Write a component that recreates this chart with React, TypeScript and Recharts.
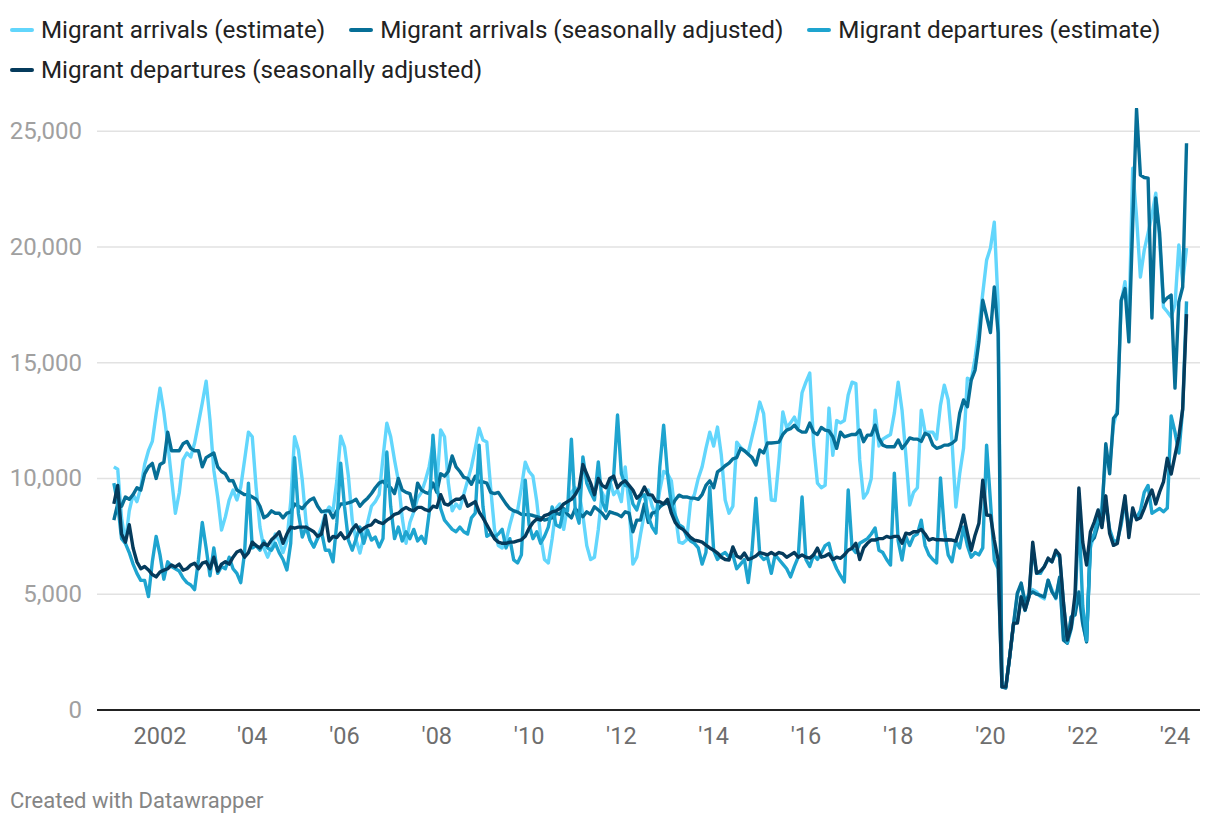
import React from "react";
import { LineChart, Line, XAxis, YAxis, CartesianGrid } from "recharts";

// monthly series, Jan 2001 .. Apr 2024
const START_YEAR = 2001;

const arrivalsEstimate = [
  10500, 10400, 8300, 7200, 8600, 9300, 9000, 9600, 10600, 11200, 11600, 12800, // 2001
  13900, 12870, 11530, 10000, 8500, 9370, 10800, 11100, 10930, 11530, 12390, 13260, // 2002
  14200, 12520, 10360, 9200, 7770, 8340, 9070, 9500, 9070, 9630, 10800, 12000, // 2003
  11800, 9600, 7900, 7000, 6600, 7000, 7600, 7300, 6800, 7300, 9000, 11800, // 2004
  11230, 9930, 8100, 7340, 7040, 7470, 7900, 8500, 8770, 8600, 9900, 11830, // 2005
  11360, 10100, 8200, 7340, 6780, 7470, 8100, 8800, 9000, 9300, 10900, 12390, // 2006
  11800, 10800, 9900, 8300, 7200, 8100, 8560, 9150, 9400, 9900, 10500, 11500, // 2007
  9700, 12100, 11800, 9800, 8600, 8900, 8700, 9300, 9900, 10500, 11300, 12170, // 2008
  11660, 11570, 9600, 7800, 7100, 7000, 7300, 8000, 8600, 8600, 9600, 10700, // 2009
  10300, 10100, 9000, 7500, 6500, 6350, 7400, 8700, 8900, 7800, 8800, 9400, // 2010
  9600, 9400, 8400, 7100, 6500, 6600, 7800, 9400, 9000, 9900, 9300, 9500, // 2011
  9000, 10500, 8800, 6300, 6600, 7600, 8500, 9500, 8800, 8400, 9500, 10300, // 2012
  10200, 9900, 8500, 7250, 7200, 7350, 9000, 9300, 10000, 10500, 11300, 12000, // 2013
  11400, 12220, 11000, 9070, 8500, 8800, 11570, 11350, 11200, 11100, 11800, 12500, // 2014
  13300, 12800, 11000, 9070, 9050, 10800, 12870, 12200, 12400, 12650, 12200, 13700, // 2015
  14160, 14550, 11500, 9800, 9600, 9700, 13040, 11000, 12500, 12400, 12500, 13600, // 2016
  14160, 14100, 10800, 9150, 9400, 10000, 12950, 11400, 11700, 11800, 11900, 12820, // 2017
  14160, 12950, 11000, 8850, 9400, 9600, 12950, 12000, 12000, 12000, 11700, 13170, // 2018
  14030, 13400, 11600, 8770, 10200, 11300, 14330, 14250, 15200, 16500, 18000, 19430, // 2019
  19950, 21070, 17500, 1050, 1000, 2300, 3700, 5000, 5400, 4700, 5000, 5200, // 2020
  5100, 4900, 4800, 5600, 5200, 4800, 5700, 3100, 2900, 4000, 4300, 5000, // 2021
  3700, 3000, 7000, 7600, 8200, 8800, 11000, 10500, 12300, 13000, 17600, 18500, // 2022
  16500, 23400, 21300, 18700, 19860, 20600, 21370, 22320, 20300, 17400, 17200, 16970, // 2023
  17500, 20080, 18480, 19950, // 2024
];

const arrivalsSeasonal = [
  8200, 8900, 8800, 9200, 9100, 9300, 9600, 9500, 10200, 10500, 10650, 10000,
  10600, 10700, 12000, 11200, 11200, 11200, 11500, 11600, 11300, 11200, 11200, 10500,
  10900, 11000, 11100, 10500, 10300, 10200, 9900, 9900, 9500, 9400, 9300, 9300,
  9200, 9100, 8800, 8300, 8400, 8600, 8500, 8500, 8300, 8500, 8550, 8900,
  8800, 8700, 8900, 9070, 9150, 8800, 8560, 8600, 8600, 8300, 8600, 8900,
  8900, 8950, 9000, 9100, 8800, 9000, 9150, 9350, 9600, 9800, 9880, 9700,
  9600, 9350, 10000, 9500, 9400, 9350, 8700, 9800, 9500, 9400, 9350, 9800,
  9400, 10200, 10100, 10300, 10970, 10500, 10300, 10050, 10000, 9750, 10100, 9850,
  9850, 9800, 9400, 9350, 9400, 9150, 8900, 8700, 8600, 8550, 8450, 8440,
  8440, 8400, 8350, 8300, 8200, 8250, 8300, 8500, 8450, 8700, 8450, 8300,
  8700, 8500, 8350, 8560, 8450, 8780, 8640, 8500, 8270, 8560, 8500, 8450,
  8350, 8560, 8500, 7700, 8200, 8200, 8900, 8100, 8500, 8550, 8770, 8900,
  8940, 8770, 9070, 9280, 9200, 9200, 9150, 9150, 9100, 9300, 9700, 9900,
  9600, 10280, 10400, 10550, 10660, 10850, 10900, 11300, 11200, 11050, 10900, 10580,
  11230, 11100, 11530, 11530, 11550, 11570, 11900, 12090, 12150, 12300, 12100, 12000,
  12000, 12390, 12000, 11900, 12200, 12090, 12050, 11800, 11300, 12000, 11800, 11850,
  11900, 11900, 12090, 11590, 11870, 11870, 12300, 11730, 11440, 11370, 11370, 11370,
  11660, 11300, 11500, 11750, 11700, 11700, 11600, 11950, 11870, 11450, 11300, 11350,
  11440, 11440, 11520, 11660, 12820, 13390, 13100, 14250, 14680, 15900, 17700, 17000,
  16300, 18270, 16280, 1000, 950, 2300, 3700, 5050, 5480, 4620, 4970, 5100,
  5000, 4950, 4880, 5610, 5100, 4840, 5740, 3020, 2890, 4020, 4100, 5100,
  3750, 2940, 7250, 7430, 8000, 8500, 11500, 10200, 12600, 12800, 17700, 18200,
  15900, 21000, 25950, 23100, 23000, 22970, 16930, 22110, 20600, 17620, 17800, 17920,
  13900, 17620, 18270, 24480,
];

const departuresEstimate = [
  9800, 8900, 7400, 7200, 6800, 6300, 5900, 5600, 5600, 4900, 6400, 7500,
  6700, 5650, 6400, 6200, 6100, 6000, 5700, 5500, 5400, 5200, 6500, 8100,
  7000, 5800, 7000, 5900, 6200, 6100, 6600, 6100, 5900, 5500, 6800, 9800,
  7000, 7100, 6900, 7300, 7000, 6900, 7200, 6800, 6500, 6050, 7200, 10900,
  8500, 7470, 7900, 7340, 7040, 7400, 7700, 6900, 6900, 6400, 8100, 10660,
  8770, 7340, 6900, 7400, 7900, 7200, 7770, 7340, 7470, 7040, 7400, 11140,
  8800, 7400, 7900, 7300, 7700, 7400, 7800, 7300, 7500, 7200, 8500, 11870,
  9700, 8700, 8200, 8000, 7800, 7700, 7900, 7700, 7600, 8300, 8500, 11440,
  8800, 7500, 7600, 7470, 7600, 7800, 7000, 7400, 6480, 6350, 6700, 9930,
  8000, 7400, 7700, 7200, 7500, 7900, 8770, 8000, 7900, 8640, 8600, 11700,
  8640, 8070, 10930, 9800, 9400, 9070, 10710, 9000, 8600, 9850, 10100, 12740,
  10200, 9700, 9650, 8900, 8640, 9200, 9300, 8350, 7900, 7640, 10500, 12300,
  10200, 8900, 8400, 8000, 7900, 7500, 7300, 7200, 7000, 6300, 6800, 9630,
  6900, 6500, 6700, 6800, 6600, 6700, 6100, 6300, 6500, 5500, 6900, 9150,
  6700, 6500, 6600, 5900, 6700, 6500, 6300, 6100, 5750, 6200, 6600, 9200,
  6500, 6200, 6700, 6500, 6780, 7100, 7200, 6500, 6100, 5800, 5530, 9500,
  7000, 6800, 7200, 7300, 7400, 7600, 7860, 6900, 6800, 6500, 6260, 10230,
  7300, 6480, 7500, 7100, 7500, 7600, 8200, 7100, 6700, 6500, 6350, 10020,
  7800, 6700, 6400, 7300, 7000, 7900, 7100, 6600, 6800, 6700, 7000, 11440,
  9000, 6480, 6100, 1000, 1000, 2300, 3700, 3800, 4900, 4300, 4900, 7000,
  5900, 5900, 6200, 6500, 6400, 6800, 6600, 4600, 2900, 3500, 4600, 8500,
  4500, 3000, 7300, 7600, 8300, 8000, 9000, 7800, 7300, 7300, 8000, 9000,
  7800, 8500, 8300, 8600, 9400, 9700, 8500, 8600, 8700, 8560, 8720, 12700,
  12000, 11100, 13000, 17650,
];

const departuresSeasonal = [
  8900, 9700, 7600, 7250, 8000, 7000, 6400, 6100, 6200, 6050, 5850, 5750,
  5960, 6040, 6100, 6260, 6180, 6300, 6040, 6100, 6260, 6340, 6100, 6340,
  6400, 6100, 6600, 6000, 6300, 6400, 6300, 6600, 6820, 6900, 6600, 6800,
  7250, 7100, 7000, 7200, 7100, 7350, 7500, 7700, 7200, 7600, 7900, 7850,
  7900, 7900, 7900, 7800, 7700, 7500, 7600, 8400, 7300, 7500, 7450, 7650,
  7400, 7500, 7800, 8000, 7700, 7850, 7950, 8000, 8200, 8100, 8050, 8200,
  8300, 8450, 8500, 8650, 8750, 8650, 8600, 8750, 8750, 8650, 8600, 8800,
  8750, 9300, 8900, 8850, 9000, 9100, 9100, 9250, 8800, 8900, 9000, 8550,
  8300, 8000, 7700, 7400, 7250, 7200, 7200, 7250, 7250, 7300, 7350, 7500,
  7850, 8100, 8250, 8200, 8400, 8450, 8560, 8600, 8700, 8900, 9000, 9100,
  9300, 9600, 10600, 10200, 9800, 9300, 10000, 9700, 9600, 10000, 10100, 9600,
  9800, 9900, 9700, 9500, 9150, 9300, 9630, 9300, 9280, 9000, 9000, 8900,
  9100, 8500, 8100, 7900, 7800, 7640, 7450, 7340, 7300, 7250, 7120, 7000,
  6900, 6780, 6600, 6500, 6480, 7040, 6650, 6560, 6780, 6500, 6560, 6650,
  6800, 6750, 6700, 6800, 6700, 6800, 6750, 6600, 6700, 6800, 6600, 6700,
  6600, 6560, 6700, 6990, 6600, 6650, 6750, 6500, 6600, 6550, 6700, 6900,
  6990, 7200, 6500, 7000, 7200, 7340, 7340, 7400, 7400, 7500, 7450, 7500,
  7500, 7200, 7640, 7600, 7700, 7700, 7800, 7600, 7340, 7400, 7350, 7350,
  7340, 7350, 7340, 7300, 7800, 8420, 7640, 6900, 7550, 8070, 9930, 8420,
  8400, 7340, 6480, 1000, 1000, 2290, 3750, 3750, 4880, 4320, 4880, 7250,
  5910, 6000, 6180, 6560, 6400, 6900, 6690, 4620, 3020, 3580, 5000, 9590,
  7250, 6260, 7690, 8120, 8640, 7880, 9250, 7620, 7110, 7190, 8220, 9250,
  7450, 8730, 8220, 8300, 8700, 9160, 9500, 8900, 9420, 9850, 10870, 10190,
  11000, 11800, 13000, 17100,
];

const xTicks = [2002, 2004, 2006, 2008, 2010, 2012, 2014, 2016, 2018, 2020, 2022, 2024];
const yTicks = [0, 5000, 10000, 15000, 20000, 25000];

const series = [
  { key: "arrEst", name: "Migrant arrivals (estimate)", color: "#62d6fc" },
  { key: "arrSa", name: "Migrant arrivals (seasonally adjusted)", color: "#066f97" },
  { key: "depEst", name: "Migrant departures (estimate)", color: "#1ea4cf" },
  { key: "depSa", name: "Migrant departures (seasonally adjusted)", color: "#053b5c" },
];

const data = arrivalsEstimate.map((v, i) => ({
  t: START_YEAR + i / 12,
  arrEst: v,
  arrSa: arrivalsSeasonal[i],
  depEst: departuresEstimate[i],
  depSa: departuresSeasonal[i],
}));

const font = "Roboto, 'Noto Sans', sans-serif";

const XTick = (props: any) => {
  const { x, payload } = props;
  const v = payload.value as number;
  const label = v === 2002 ? "2002" : "'" + String(v).slice(2);
  return (
    <text x={x} y={736} textAnchor="middle" dominantBaseline="central" fontSize={23.5} fill="#6e6e6e" fontFamily={font}>
      {label}
    </text>
  );
};

const YTick = (props: any) => {
  const { y, payload } = props;
  return (
    <text x={82} y={y} textAnchor="end" dominantBaseline="central" fontSize={24} fill="#a0a0a0" fontFamily={font}>
      {payload.value.toLocaleString("en-US")}
    </text>
  );
};

const LegendItem = ({ name, color }: { name: string; color: string }) => (
  <div style={{ display: "flex", alignItems: "center", marginRight: 24, height: 40 }}>
    <div style={{ width: 24, height: 4, borderRadius: 2, background: color, marginRight: 7 }} />
    <span style={{ fontSize: 24.2, color: "#222", whiteSpace: "nowrap" }}>{name}</span>
  </div>
);

export default function App() {
  return (
    <div style={{ position: "absolute", left: 0, top: 0, width: 1220, height: 826, background: "#fff", fontFamily: font, overflow: "hidden" }}>
      <div style={{ position: "absolute", left: 10, top: 10, width: 1200, display: "flex", flexWrap: "wrap" }}>
        {series.map((s) => (
          <LegendItem key={s.key} name={s.name} color={s.color} />
        ))}
      </div>
      <div style={{ position: "absolute", left: 0, top: 0 }}>
        <LineChart width={1220} height={826} data={data} margin={{ top: 108, right: 20, bottom: 0, left: 0 }}>
          <CartesianGrid
            vertical={false}
            horizontalValues={[5000, 10000, 15000, 20000, 25000]}
            stroke="#e2e2e2"
            strokeWidth={1.5}
          />
          <XAxis
            type="number"
            dataKey="t"
            domain={[2000.6345, 2024.542]}
            ticks={xTicks}
            height={116}
            axisLine={{ stroke: "#222", strokeWidth: 2 }}
            tickLine={false}
            tick={<XTick />}
            allowDataOverflow
          />
          <YAxis
            domain={[0, 26000]}
            ticks={yTicks}
            width={97}
            axisLine={false}
            tickLine={false}
            tick={<YTick />}
            allowDataOverflow
          />
          {series.map((s) => (
            <Line
              key={s.key}
              type="linear"
              dataKey={s.key}
              name={s.name}
              stroke={s.color}
              strokeWidth={3.4}
              strokeLinejoin="round"
              dot={false}
              isAnimationActive={false}
            />
          ))}
        </LineChart>
      </div>
      <div style={{ position: "absolute", left: 10, top: 788, fontSize: 22, color: "#858585" }}>Created with Datawrapper</div>
    </div>
  );
}
